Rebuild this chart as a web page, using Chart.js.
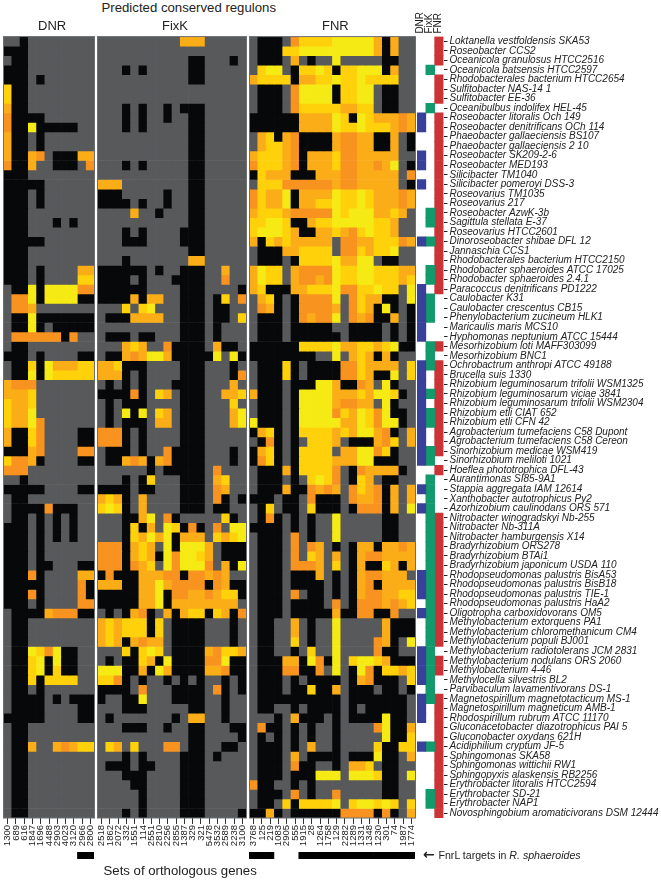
<!DOCTYPE html>
<html>
<head>
<meta charset="utf-8">
<title>Predicted conserved regulons</title>
<script src="https://cdn.jsdelivr.net/npm/chart.js@4"></script>
<style>
  body { margin: 0; background: #fff; font-family: "Liberation Sans", Arial, sans-serif; color: #222; }
  #page { position: relative; width: 661px; height: 881px; overflow: hidden; }
  canvas { position: absolute; }
  .note { position: absolute; white-space: nowrap; font-size: 13.2px; }
</style>
</head>
<body>
<div id="page">
  <canvas id="dnr" width="92" height="840" style="left:3px;top:18px"></canvas>
  <canvas id="fixk" width="150" height="840" style="left:97px;top:18px"></canvas>
  <canvas id="fnr" width="167" height="840" style="left:249px;top:18px"></canvas>
  <canvas id="dnrTargetsChart" width="91" height="7" style="left:3px;top:852px"></canvas>
  <canvas id="fnrTargetsChart" width="166" height="7" style="left:249px;top:852px"></canvas>
  <canvas id="strip" width="254" height="808" style="left:407px;top:10px"></canvas>
  <div class="note" style="left:101.5px;top:0px">Predicted conserved regulons</div>
  <div class="note" style="left:38px;top:18px;font-size:13px">DNR</div>
  <div class="note" style="left:162px;top:18px;font-size:13px">FixK</div>
  <div class="note" style="left:322px;top:18px;font-size:13px">FNR</div>
  <div class="note" style="left:103.5px;top:863px">Sets of orthologous genes</div>
  <div class="note" style="left:423px;top:846px;font-size:14px;font-weight:bold;font-family:'DejaVu Sans'">←</div>
  <div class="note" style="left:438.5px;top:849px;font-size:10.6px">FnrL targets in <i>R. sphaeroides</i></div>
</div>
<script>
// . = no site   # = no ortholog   1..4 = score, orange up to yellow
const dnrGenes = ['1300','689','616','1847','1696','4488','2903','4023','3120','2966','2800'];
const fixkGenes = ['2518','1862','2072','332','1551','114','2551','2810','2256','2855','1387','329','321','5478','3532','2589','2238','3100'];
const fnrGenes = ['3768','125','219','1083','2905','555','1915','28','1264','1758','129','2282','1289','1331','1348','1230','301','74','1987','1774'];

const dnrTargets = [0,0,0,0,0,0,0,0,0,1,1];
const fnrTargets = [1,1,1,0,0,0,1,1,1,1,1,1,1,1,1,1,1,1,1,1];

const species = [
  'Loktanella vestfoldensis SKA53','Roseobacter CCS2','Oceanicola granulosus HTCC2516','Oceanicola batsensis HTCC2597',
  'Rhodobacterales bacterium HTCC2654','Sulfitobacter NAS-14 1','Sulfitobacter EE-36','Oceanibulbus indolifex HEL-45',
  'Roseobacter litoralis Och 149','Roseobacter denitrificans OCh 114','Phaeobacter gallaeciensis BS107','Phaeobacter gallaeciensis 2 10',
  'Roseobacter SK209-2-6','Roseobacter MED193','Silicibacter TM1040','Silicibacter pomeroyi DSS-3',
  'Roseovarius TM1035','Roseovarius 217','Roseobacter AzwK-3b','Sagittula stellata E-37',
  'Roseovarius HTCC2601','Dinoroseobacter shibae DFL 12','Jannaschia CCS1','Rhodobacterales bacterium HTCC2150',
  'Rhodobacter sphaeroides ATCC 17025','Rhodobacter sphaeroides 2.4.1','Paracoccus denitrificans PD1222','Caulobacter K31',
  'Caulobacter crescentus CB15','Phenylobacterium zucineum HLK1','Maricaulis maris MCS10','Hyphomonas neptunium ATCC 15444',
  'Mesorhizobium loti MAFF303099','Mesorhizobium BNC1','Ochrobactrum anthropi ATCC 49188','Brucella suis 1330',
  'Rhizobium leguminosarum trifolii WSM1325','Rhizobium leguminosarum viciae 3841','Rhizobium leguminosarum trifolii WSM2304','Rhizobium etli CIAT 652',
  'Rhizobium etli CFN 42','Agrobacterium tumefaciens C58 Dupont','Agrobacterium tumefaciens C58 Cereon','Sinorhizobium medicae WSM419',
  'Sinorhizobium meliloti 1021','Hoeflea phototrophica DFL-43','Aurantimonas SI85-9A1','Stappia aggregata IAM 12614',
  'Xanthobacter autotrophicus Py2','Azorhizobium caulinodans ORS 571','Nitrobacter winogradskyi Nb-255','Nitrobacter Nb-311A',
  'Nitrobacter hamburgensis X14','Bradyrhizobium ORS278','Bradyrhizobium BTAi1','Bradyrhizobium japonicum USDA 110',
  'Rhodopseudomonas palustris BisA53','Rhodopseudomonas palustris BisB18','Rhodopseudomonas palustris TIE-1','Rhodopseudomonas palustris HaA2',
  'Oligotropha carboxidovorans OM5','Methylobacterium extorquens PA1','Methylobacterium chloromethanicum CM4','Methylobacterium populi BJ001',
  'Methylobacterium radiotolerans JCM 2831','Methylobacterium nodulans ORS 2060','Methylobacterium 4-46','Methylocella silvestris BL2',
  'Parvibaculum lavamentivorans DS-1','Magnetospirillum magnetotacticum MS-1','Magnetospirillum magneticum AMB-1','Rhodospirillum rubrum ATCC 11170',
  'Gluconacetobacter diazotrophicus PAI 5','Gluconobacter oxydans 621H','Acidiphilium cryptum JF-5','Sphingomonas SKA58',
  'Sphingomonas wittichii RW1','Sphingopyxis alaskensis RB2256','Erythrobacter litoralis HTCC2594','Erythrobacter SD-21',
  'Erythrobacter NAP1','Novosphingobium aromaticivorans DSM 12444'
];

// row numbers (0 based, top to bottom) where each regulator is present
const dnrPresent = [8,9,12,13,15,21,26,27,28,29,30,31,34,35,36,37,38,39,40,41,42,43,44,47,49,56,57,58,60,64,65,66,67,69,70,71,74];
const fixkPresent = [3,7,18,19,21,24,25,27,28,29,32,33,34,37,39,40,43,44,46,47,48,49,50,51,52,53,54,55,56,57,58,59,60,61,62,63,64,65,66,67,68,69,74,79,80];
const fnrPresent = [0,1,2,4,5,6,8,9,10,11,12,13,14,15,16,17,18,19,20,21,22,23,24,25,26,32,34,35,36,37,38,39,40,41,42,43,45,50,51,52,53,54,55,56,57,58,59,60,61,62,63,65,66,69,70,71,72,73,74,75,76,77,78,79,80,81];

const dnrRows = [
  '..#........','###........','.##........','###........','###.#......','3##........','3##........','2##........',
  '1####......','1##4#####..','2##.#......','2##.#......','2##21.###22','1##2..###.1','###........','#####......',
  '###.#......','###.#......','###........','###...#.#..','###........','#####......','###........','###........',
  '###.#....22','###.#....33','.##4#444411','.114#4444##','.112.......','.##4#######','.##4#.#####','.111111#1..',
  '.##........','###.#....##','.##3#422233','.##4#433333','2111.......','2223.......','3223.......','3224.......',
  '32241......','2##31....##','2##31....##','###21....11','3112#....##','111........','..#........','#####....##',
  '.##........','.####1###..','.##.#.#.#..','###.#.#.#..','###.#.#.#..','###.#......','###.#......','###.##...##',
  '###1#....22','#####....1#','###1#....1#','###.#....11','.####2111##','.##........','.##........','.##........',
  '.##4314##..','.##34#4##..','.##34#3##..','.##3#3333..','.##.#......','.####.#.###','.####....##','#####....##',
  '.##........','.##........','.##2..21233','.##........','.##........','.##........','.##........','.##........',
  '.##........','.##........'
];

const fixkRows = [
  '..........222.....','..................','...........##...#.','...#.#.....##.....','...........##.....','..................','..................','...#.#..#.###.....',
  '...#.#..#..##.....','...#.#.....##.....','...........##.....','...........##.....','...........##.....','...#.#.....##.....','...........##.....','222........##.....',
  '###.....#..##.....','####.#..#..##.....','....2..#...##.....','...........##.....','...#.#....###.....','...###....###.....','...........##.....','...#.......22.....',
  '######.#..###..2..','####.#...####..1..','######....###....#','####2#22..###.#3.1','...3.34...###.##..','.###2222..###.##.3','..........###.#...','.###.##...###.#...',
  '...232..1####.2##.','.##212442#####4.4#','223###....###...#.','222#.#....###...#1','.#.#.#...####...2.','####1#.32.###..223','.#.###....###...3.','.#.4#4.32.###...24',
  '.#.###.22.###...24','111#.#....###.....','111#.#....###.....','.###.#..1####...#.','.##212#21####...#.','......#.#####.1...','...#.#3...###.23..','####.##...###.12..',
  '232#.2....###.1#.#','343#.2....###.##..','...##24.1#.....3#.','...#3#2.43#1#.1.44','...#32424#222.3234','111#232.4#4442.###','111#232#414432.###','111#123.414441.2#4',
  '#1###22211#11212..','222##22421111#12##','#####224#11221233#','#####224#22222222.','.#.#21#.2#233#32#1','232333#3.####...#.','232333#3.####...#.','232#2122.####...#.',
  '...3#343.####21332','.#.##32#4####114##','444##2#42####221##','331#.#..#.#.#..#.#','####.1...####.1#.#','#..##4...####..#..','...###.....##..#..','.#.......#.22..#..',
  '...###..#..##...##','...........##....#','.32.3...11.##..##.','...#.#....###.#...','.###.##...###.....','...###....###.....','....##....###.....','.....#....###.....',
  '.....#....###.....','...#.#....###....#'
];

const fnrRows = [
  '.###.13333444442#2..','.###334444444442#2..','.###.2.#..4.....##..','.344.#3343#33444#2..','23333#223343343333..','.###.14444#3344.##..','.###.14444#3344.##..','.###.1333332233.##..',
  '######222243#4322212','######22224334333212','.23#21####21122##2.#','.23321####21122##2.#','233321#22231122222..','133321#22231122124.#','#3222###2221122222.1','.33311111121122222.#',
  '13224#22224334322212','13224#22334334322212','2333211111434442232.','33443##23344444332..','344432##2232134332..','2#32322222.112233312','.###223333.1132334..','.###.#333342244.##..',
  '2433.211114334433322','2433.211214334433323','23###2233341133433.4','.23#.#11114.1322##.4','.12#.#11112.132#4#.#','.###.#12114.121##2.#','.###.#####..####.#.#','.###.######.####.#.#',
  '######333342233234##','########..4.232#2#..','.###3#.####1132222.3','.###3#.####1132##4.3','.###.###442##12.4#..','2###.#444422232443#.','.###.#444421122.4#..','.###.#44441324314##.',
  '4###.#444442243144#.','#23#.#33332324421#.2','.#1#.#.3332.###213.2','#23#.#3333.224413#..','#13#.#333322244###..','.###2#33331.#12222#.','.###.#.3431.#32.##..','.###2##1212.1321#2.2',
  '###.##.1###.1221#2.2','.#3.##.3###.#111#2.4','.#1#.#.#..4.....##..','####.#.#..4.....##..','.###.1.#..4.....##..','.###.1.12.#.#22#2212','.###.1.32.2.#2112222','.###.1112.3.#2##32#2',
  '.###.###2.#.#211222.','.###.####.#.#21#2222','.###.1.##.#.#2112233','.###.####.1.#1112123','.###.#####2##11##1..','.##..2.#..4.....2###','.##..2.#..4.....2###','.##..3.#..4....12#.4',
  '.##..#.3..4....1##..','.###22#41#4.34432###','.###11##1.4.#41#3323','.###.#.####.#21###.3','.###.##3##2.###.##.#','.##########.#######.','.##..#.####.#.#####.','...#.2###.#.####4##.',
  '.1##.#.#..#....14##2','.#.#.#.#..#.....4##3','.###.#.2..#....3##33','.###.2.####.###4##.2','.###.1##..#.223.##..','.###.###444.4443##.4','1##..#.#........##..','.###.1.#..1.....##..',
  '.##.3#33334.344343.3','##2#.######1111#1#.2'
];

const cellColors = { '.': '#58595b', '#': '#070809', '1': '#f7931e', '2': '#fbad18', '3': '#ffd10a', '4': '#f6ea15' };
const regulators = ['DNR', 'FixK', 'FNR'];
const regulatorColors = ['#39409a', '#129a6c', '#cc3336'];

Chart.defaults.animation = false;
Chart.defaults.responsive = false;
Chart.defaults.font.family = '"Liberation Sans", Arial, sans-serif';
Chart.defaults.plugins.legend.display = false;
Chart.defaults.plugins.tooltip.enabled = false;

const panelFrame = {
  id: 'panelFrame',
  afterDraw(chart) {
    const a = chart.chartArea;
    chart.ctx.save();
    chart.ctx.strokeStyle = '#6d6e70';
    chart.ctx.lineWidth = 1;
    chart.ctx.strokeRect(a.left, a.top, a.right - a.left, a.bottom - a.top);
    chart.ctx.restore();
  }
};

function drawPanel(id, genes, rows) {
  const datasets = rows.map(row => ({
    data: genes.map(() => 1),
    backgroundColor: genes.map((g, i) => cellColors[row[i]]),
    barPercentage: 1,
    categoryPercentage: 1
  }));
  new Chart(document.getElementById(id), {
    type: 'bar',
    data: { labels: genes, datasets: datasets },
    plugins: [panelFrame],
    options: {
      layout: { padding: { left: 0.5, right: 0.5, top: 18.6 } },
      scales: {
        x: {
          stacked: true,
          grid: { drawOnChartArea: false, offset: false, tickLength: 6, color: '#333' },
          border: { display: false },
          ticks: { autoSkip: false, minRotation: 90, maxRotation: 90, padding: 1, color: '#222', font: { size: 9.5 } },
          afterFit: s => { s.height = 40; s.paddingLeft = 0; s.paddingRight = 0; }
        },
        y: { display: false, stacked: true, reverse: true, min: 0, max: rows.length }
      }
    }
  });
}

function drawTargets(id, genes, targets) {
  new Chart(document.getElementById(id), {
    type: 'bar',
    data: { labels: genes, datasets: [{ data: targets.map(v => v || null), backgroundColor: '#000', barPercentage: 1, categoryPercentage: 1 }] },
    options: {
      scales: { x: { display: false }, y: { display: false, min: 0, max: 1 } }
    }
  });
}

drawPanel('dnr', dnrGenes, dnrRows);
drawPanel('fixk', fixkGenes, fixkRows);
drawPanel('fnr', fnrGenes, fnrRows);
drawTargets('dnrTargetsChart', dnrGenes, dnrTargets);
drawTargets('fnrTargetsChart', fnrGenes, fnrTargets);

new Chart(document.getElementById('strip'), {
  type: 'bar',
  data: {
    labels: species,
    datasets: [dnrPresent, fixkPresent, fnrPresent].map((present, k) => ({
      data: species.map(() => 1),
      backgroundColor: species.map((s, i) => present.includes(i) ? regulatorColors[k] : 'rgba(255,255,255,0)'),
      barPercentage: 1,
      categoryPercentage: 1
    }))
  },
  options: {
    indexAxis: 'y',
    layout: { padding: { left: 10 } },
    scales: {
      x: {
        position: 'top',
        stacked: true,
        min: 0,
        max: 3,
        grid: { display: false, drawTicks: false },
        border: { display: false },
        afterBuildTicks: s => { s.ticks = regulators.map((r, i) => ({ value: i + 0.5 })); },
        ticks: { autoSkip: false, minRotation: 90, maxRotation: 90, padding: 3, color: '#222', font: { size: 10, lineHeight: 0.1 },
          callback: v => regulators[Math.floor(v)] },
        afterFit: s => { s.height = 26.6; s.paddingLeft = 0; s.paddingRight = 0; }
      },
      y: {
        position: 'right',
        stacked: true,
        grid: { drawOnChartArea: false, offset: false, tickLength: 4, color: '#222' },
        border: { display: false },
        ticks: { autoSkip: false, padding: 2, color: '#222', font: { size: 10, style: 'italic' } },
        afterFit: s => { s.width = 217.5; s.paddingTop = 0; s.paddingBottom = 0; }
      }
    }
  }
});
</script>
</body>
</html>
